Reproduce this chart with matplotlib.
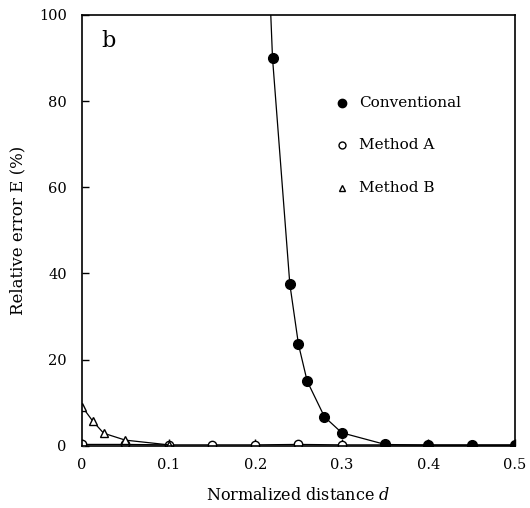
import numpy as np
import matplotlib
matplotlib.use("Agg")
import matplotlib.pyplot as plt

plt.rcParams['font.family'] = ['DejaVu Serif']
plt.rcParams['mathtext.fontset'] = 'dejavuserif'

# data
d_conv = [0.21, 0.22, 0.24, 0.25, 0.26, 0.28, 0.30, 0.35, 0.40, 0.45, 0.50]
e_conv = [140, 90, 37.5, 23.5, 15, 6.7, 3.0, 0.3, 0.1, 0.1, 0.1]

d_a = [0, 0.05, 0.10, 0.15, 0.20, 0.25, 0.30, 0.35, 0.40, 0.45, 0.50]
e_a = [0.3, 0.3, 0.2, 0.2, 0.2, 0.3, 0.2, 0.2, 0.2, 0.2, 0.2]

d_b = [0, 0.0125, 0.025, 0.05, 0.10]
e_b = [9.1, 5.7, 2.9, 1.3, 0.2]

xticks = [0, 0.1, 0.2, 0.3, 0.4, 0.5]
xticklabels = ['0', '0.1', '0.2', '0.3', '0.4', '0.5']
yticks = [0, 20, 40, 60, 80, 100]

fig = plt.figure(figsize=(5.3, 5.08), dpi=100)
ax = fig.add_axes([0.1547, 0.1226, 0.8170, 0.8479])

ax.plot(d_a, e_a, '-', color='black', lw=0.9, marker='o', ms=6,
        mfc='white', mec='black', mew=1.0, zorder=2)
ax.plot(d_b, e_b, '-', color='black', lw=0.9, marker='^', ms=6,
        mfc='white', mec='black', mew=1.0, zorder=2)
ax.plot(d_conv, e_conv, '-', color='black', lw=0.9, marker='o', ms=7,
        mfc='black', mec='black', zorder=3)

ax.set_xlim(0, 0.5)
ax.set_ylim(0, 100)
ax.set_xticks(xticks)
ax.set_xticklabels(xticklabels)
ax.set_yticks(yticks)
ax.tick_params(direction='in', length=5, width=1, labelsize=10.5, pad=9,
               top=False, right=False)
ax.tick_params(axis='y', pad=11)
for s in ax.spines.values():
    s.set_linewidth(1.2)

ax.set_xlabel('Normalized distance $\\mathit{d}$', fontsize=11.5, labelpad=11)
ax.set_ylabel('Relative error E (%)', fontsize=12, labelpad=9)

ax.text(0.045, 0.94, 'b', transform=ax.transAxes, fontsize=16,
        ha='left', va='center')

# legend drawn by hand
leg_items = [('Conventional', 'o', 'black', 0.796),
             ('Method A', 'o', 'white', 0.698),
             ('Method B', '^', 'white', 0.598)]
for label, mk, fc, yy in leg_items:
    ax.plot([0.600], [yy], marker=mk, ms=6 if fc == 'black' else 5,
            mfc=fc, mec='black', mew=1.0, transform=ax.transAxes,
            clip_on=False)
    ax.text(0.639, yy, label, transform=ax.transAxes, fontsize=11,
            ha='left', va='center')

fig.savefig('out.png', dpi=100)
